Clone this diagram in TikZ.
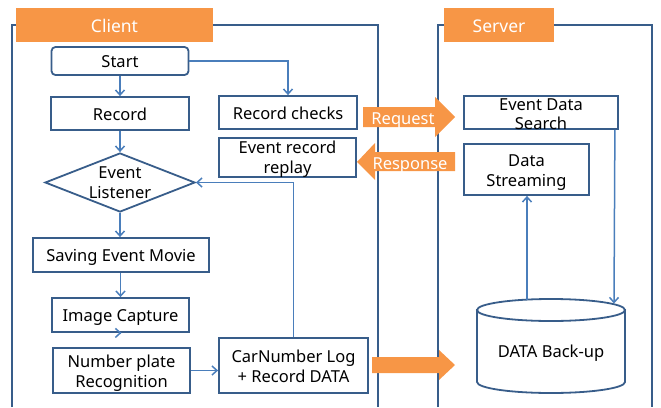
\documentclass[tikz,border=0pt]{standalone}
\usepackage{fontspec}
\setmainfont{Noto Sans}
\usetikzlibrary{shapes.geometric,arrows.meta}
\definecolor{frameblue}{HTML}{385D8A}
\definecolor{linkblue}{HTML}{4A7EBB}
\definecolor{hdrorange}{HTML}{F79646}
% fixed first-line height and last-line depth so every label sits alike
\newcommand{\upstrut}{\rule{0pt}{17pt}}
\newcommand{\downstrut}{\rule[-4pt]{0pt}{0pt}}

\begin{document}
\begin{tikzpicture}[x=1pt,y=-1pt,
  frame/.style={draw=frameblue, line width=1.8pt},
  box/.style={draw=frameblue, line width=1.8pt, fill=white, inner sep=0pt,
    align=center, font=\fontsize{16.5}{20}\selectfont},
  txt/.style={inner sep=0pt, align=center, font=\fontsize{16.5}{20}\selectfont},
  decision/.style={draw=frameblue, line width=1.8pt, fill=white, diamond,
    inner sep=0pt, minimum width=150pt, minimum height=59pt},
  hdr/.style={fill=hdrorange, text=white, inner sep=0pt,
    font=\fontsize{17.5}{20}\selectfont\bfseries},
  link/.style={draw=linkblue, line width=1.5pt, -{Straight Barb[length=5pt,width=9pt]}},
  cyl/.style={draw=frameblue, line width=1.8pt, fill=white},
  bigarrow/.style={fill=hdrorange},
  arrowtxt/.style={text=white, inner sep=0pt, font=\fontsize{16.5}{20}\selectfont}
]
\useasboundingbox (0,0) rectangle (661,407);

% swim-lane frames
\draw[frame] (12,407) -- (12,25) -- (378,25) -- (378,407);
\draw[frame] (438,407) -- (438,25) -- (652,25) -- (652,407);
\node[hdr, minimum width=197pt, minimum height=34pt] (clienthdr) at (114.5,25) {\upstrut Client\rule[-2pt]{0pt}{0pt}};
\node[hdr, minimum width=110pt, minimum height=34pt] (serverhdr) at (499,25) {\upstrut Server\rule[-2pt]{0pt}{0pt}};

% client side
\node[box, rounded corners=4pt, minimum width=137pt, minimum height=28pt] (start) at (120,61) {\upstrut Start\downstrut};
\node[box, minimum width=138pt, minimum height=33pt] (record) at (120,113.5) {\upstrut Record\downstrut};
\node[box, minimum width=138pt, minimum height=33pt] (rchk) at (288,112.5) {\upstrut Record checks\downstrut};
\node[box, minimum width=137pt, minimum height=39pt] (replay) at (287.5,157.5) {};
\node[txt] (replaytxt) at (287.5,156.5) {\upstrut Event record\\replay\downstrut};
\node[decision] (listen) at (120,182.5) {};
\node[txt] (listentxt) at (120,181.5) {\upstrut Event\\Listener\downstrut};
\node[box, minimum width=176pt, minimum height=34pt] (saving) at (121,255) {\upstrut Saving Event Movie\downstrut};
\node[box, minimum width=137pt, minimum height=34pt] (capture) at (120.5,315) {\upstrut Image Capture\downstrut};
\node[box, minimum width=137pt, minimum height=45pt] (plate) at (121.5,370.5) {\upstrut Number plate\\Recognition\downstrut};
\node[box, minimum width=149pt, minimum height=55pt] (car) at (293.5,365.5) {\upstrut CarNumber Log\\+ Record DATA\downstrut};

% server side
\node[box, minimum width=154pt, minimum height=33pt] (eds) at (541,112.5) {};
\node[txt, font=\fontsize{16.5}{19}\selectfont] (edstxt) at (541,113.7) {\upstrut Event Data\\Search\downstrut};
\node[box, minimum width=125pt, minimum height=51pt] (ds) at (526.5,169.5) {\upstrut Data\\Streaming\downstrut};

% backup storage drum
\node[minimum width=148pt, minimum height=94pt, inner sep=0pt] (db) at (551,346) {};
\path[cyl] (477,310) -- (477,382) arc[start angle=180, end angle=360, x radius=74pt, y radius=11pt] -- (625,310) -- cycle;
\draw[cyl] (551,310) ellipse [x radius=74pt, y radius=11pt];
\node[txt] (dbtxt) at (551,350.5) {\upstrut DATA Back-up\downstrut};
\coordinate (dbin) at (614,303.5);
\coordinate (dbout) at (527,299.5);

% flow connectors
\draw[link] (start.south) -- (record.north);
\draw[link] (start.east) -| (rchk.north);
\draw[link] (record.south) -- (listen.north);
\draw[link] (listen.south) -- (listen.south |- saving.north);
\draw[link] (saving.south -| capture.north) -- (capture.north);
\draw[link] (capture.south) -- (capture.south -| plate.north);
\draw[link] (plate.east) -- (plate.east -| car.west);
\draw[link] (car.north) |- (listen.east);
\draw[link] ([xshift=-4pt]eds.south east) -- (dbin);
\draw[link] (dbout) -- (dbout |- ds.south);

% request / response / upload arrows
\fill[bigarrow] (363,107) -- (435,107) -- (435,97) -- (455,117) -- (435,137) -- (435,127) -- (363,127) -- cycle;
\node[arrowtxt] (reqtxt) at (403,117.5) {\upstrut Request\downstrut};
\fill[bigarrow] (455,152) -- (375,152) -- (375,143) -- (357,162) -- (375,180) -- (375,171) -- (455,171) -- cycle;
\node[arrowtxt] (resptxt) at (410,162.5) {\upstrut Response\downstrut};
\fill[bigarrow] (372,357) -- (439,357) -- (439,350) -- (455,365) -- (439,380) -- (439,373) -- (372,373) -- cycle;
\end{tikzpicture}
\end{document}
